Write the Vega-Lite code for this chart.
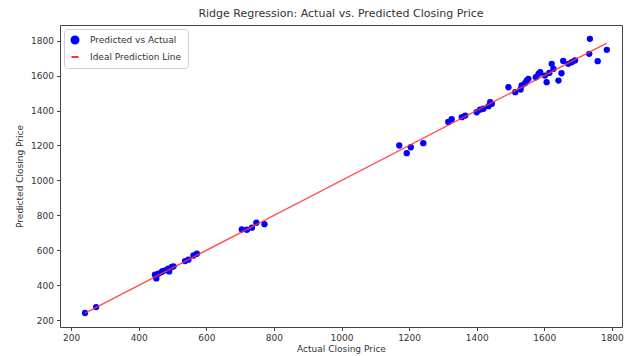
{
  "$schema": "https://vega.github.io/schema/vega-lite/v6.json",
  "autosize": {"type": "none"},
  "width": 562,
  "height": 302,
  "padding": {"left": 60, "top": 25, "right": 3, "bottom": 29},
  "background": "white",
  "config": {
    "font": "DejaVu Sans",
    "view": {"stroke": "#444", "strokeWidth": 1},
    "axis": {"grid": false, "labelFont": "DejaVu Sans", "labelFontSize": 9, "labelColor": "#333", "tickColor": "#444", "tickSize": 3.5, "domain": false, "titleFont": "DejaVu Sans", "titleFontSize": 9, "titleFontWeight": "normal", "titleColor": "#333", "labelPadding": 3}
  },
  "title": {"text": "Ridge Regression: Actual vs. Predicted Closing Price", "font": "DejaVu Sans", "fontSize": 11, "fontWeight": "normal", "color": "#333", "offset": 6},
  "datasets": {
    "pts": [
      {"actual": 241, "predicted": 242, "series": "Predicted vs Actual"},
      {"actual": 274, "predicted": 276, "series": "Predicted vs Actual"},
      {"actual": 448, "predicted": 461, "series": "Predicted vs Actual"},
      {"actual": 452, "predicted": 440, "series": "Predicted vs Actual"},
      {"actual": 458, "predicted": 467, "series": "Predicted vs Actual"},
      {"actual": 468, "predicted": 476, "series": "Predicted vs Actual"},
      {"actual": 470, "predicted": 482, "series": "Predicted vs Actual"},
      {"actual": 478, "predicted": 486, "series": "Predicted vs Actual"},
      {"actual": 487, "predicted": 495, "series": "Predicted vs Actual"},
      {"actual": 490, "predicted": 480, "series": "Predicted vs Actual"},
      {"actual": 498, "predicted": 505, "series": "Predicted vs Actual"},
      {"actual": 503, "predicted": 509, "series": "Predicted vs Actual"},
      {"actual": 537, "predicted": 539, "series": "Predicted vs Actual"},
      {"actual": 547, "predicted": 547, "series": "Predicted vs Actual"},
      {"actual": 562, "predicted": 571, "series": "Predicted vs Actual"},
      {"actual": 572, "predicted": 581, "series": "Predicted vs Actual"},
      {"actual": 705, "predicted": 720, "series": "Predicted vs Actual"},
      {"actual": 720, "predicted": 718, "series": "Predicted vs Actual"},
      {"actual": 735, "predicted": 730, "series": "Predicted vs Actual"},
      {"actual": 748, "predicted": 758, "series": "Predicted vs Actual"},
      {"actual": 772, "predicted": 750, "series": "Predicted vs Actual"},
      {"actual": 1171, "predicted": 1200, "series": "Predicted vs Actual"},
      {"actual": 1193, "predicted": 1156, "series": "Predicted vs Actual"},
      {"actual": 1205, "predicted": 1190, "series": "Predicted vs Actual"},
      {"actual": 1242, "predicted": 1213, "series": "Predicted vs Actual"},
      {"actual": 1316, "predicted": 1335, "series": "Predicted vs Actual"},
      {"actual": 1326, "predicted": 1350, "series": "Predicted vs Actual"},
      {"actual": 1356, "predicted": 1362, "series": "Predicted vs Actual"},
      {"actual": 1366, "predicted": 1371, "series": "Predicted vs Actual"},
      {"actual": 1400, "predicted": 1390, "series": "Predicted vs Actual"},
      {"actual": 1410, "predicted": 1405, "series": "Predicted vs Actual"},
      {"actual": 1420, "predicted": 1410, "series": "Predicted vs Actual"},
      {"actual": 1435, "predicted": 1425, "series": "Predicted vs Actual"},
      {"actual": 1440, "predicted": 1448, "series": "Predicted vs Actual"},
      {"actual": 1445, "predicted": 1438, "series": "Predicted vs Actual"},
      {"actual": 1494, "predicted": 1533, "series": "Predicted vs Actual"},
      {"actual": 1514, "predicted": 1505, "series": "Predicted vs Actual"},
      {"actual": 1530, "predicted": 1520, "series": "Predicted vs Actual"},
      {"actual": 1533, "predicted": 1543, "series": "Predicted vs Actual"},
      {"actual": 1543, "predicted": 1556, "series": "Predicted vs Actual"},
      {"actual": 1548, "predicted": 1571, "series": "Predicted vs Actual"},
      {"actual": 1553, "predicted": 1581, "series": "Predicted vs Actual"},
      {"actual": 1575, "predicted": 1590, "series": "Predicted vs Actual"},
      {"actual": 1583, "predicted": 1610, "series": "Predicted vs Actual"},
      {"actual": 1588, "predicted": 1619, "series": "Predicted vs Actual"},
      {"actual": 1602, "predicted": 1600, "series": "Predicted vs Actual"},
      {"actual": 1607, "predicted": 1562, "series": "Predicted vs Actual"},
      {"actual": 1615, "predicted": 1615, "series": "Predicted vs Actual"},
      {"actual": 1622, "predicted": 1667, "series": "Predicted vs Actual"},
      {"actual": 1627, "predicted": 1638, "series": "Predicted vs Actual"},
      {"actual": 1642, "predicted": 1571, "series": "Predicted vs Actual"},
      {"actual": 1651, "predicted": 1613, "series": "Predicted vs Actual"},
      {"actual": 1656, "predicted": 1683, "series": "Predicted vs Actual"},
      {"actual": 1671, "predicted": 1667, "series": "Predicted vs Actual"},
      {"actual": 1681, "predicted": 1676, "series": "Predicted vs Actual"},
      {"actual": 1691, "predicted": 1686, "series": "Predicted vs Actual"},
      {"actual": 1733, "predicted": 1724, "series": "Predicted vs Actual"},
      {"actual": 1735, "predicted": 1810, "series": "Predicted vs Actual"},
      {"actual": 1758, "predicted": 1682, "series": "Predicted vs Actual"},
      {"actual": 1785, "predicted": 1747, "series": "Predicted vs Actual"}
    ],
    "ideal": [
      {"actual": 241, "predicted": 241, "series": "Ideal Prediction Line"},
      {"actual": 1785, "predicted": 1785, "series": "Ideal Prediction Line"}
    ]
  },
  "encoding": {
    "x": {"field": "actual", "type": "quantitative", "title": "Actual Closing Price", "scale": {"domain": [167, 1830], "nice": false, "zero": false}, "axis": {"values": [200, 400, 600, 800, 1000, 1200, 1400, 1600, 1800], "format": "d", "labelOverlap": false, "titlePadding": 2}},
    "y": {"field": "predicted", "type": "quantitative", "title": "Predicted Closing Price", "scale": {"domain": [162, 1889], "nice": false, "zero": false}, "axis": {"values": [200, 400, 600, 800, 1000, 1200, 1400, 1600, 1800], "tickCount": 9, "format": "d", "labelOverlap": false, "titlePadding": 6}}
  },
  "layer": [
    {
      "data": {"name": "pts"},
      "mark": {"type": "point", "filled": true, "size": 40, "opacity": 1},
      "encoding": {
        "color": {"field": "series", "type": "nominal", "scale": {"domain": ["Predicted vs Actual", "Ideal Prediction Line"], "range": ["#0000ff", "#ff3333"]}, "legend": {"title": null, "orient": "top-left", "offset": 4, "labelFontSize": 9, "labelColor": "#333", "labelFont": "DejaVu Sans", "strokeColor": "#d0d0d0", "fillColor": "white", "cornerRadius": 3, "padding": 6, "rowPadding": 4, "labelOffset": 10, "symbolSize": 50, "symbolStrokeWidth": 2, "encode": {"symbols": {"update": {"stroke": {"scale": "color", "field": "value"}}}}}},
        "shape": {"field": "series", "type": "nominal", "scale": {"domain": ["Predicted vs Actual", "Ideal Prediction Line"], "range": ["circle", "stroke"]}, "legend": null}
      }
    },
    {
      "data": {"name": "ideal"},
      "mark": {"type": "line", "strokeWidth": 1.5, "opacity": 0.85},
      "encoding": {
        "color": {"field": "series", "type": "nominal"}
      }
    }
  ]
}
